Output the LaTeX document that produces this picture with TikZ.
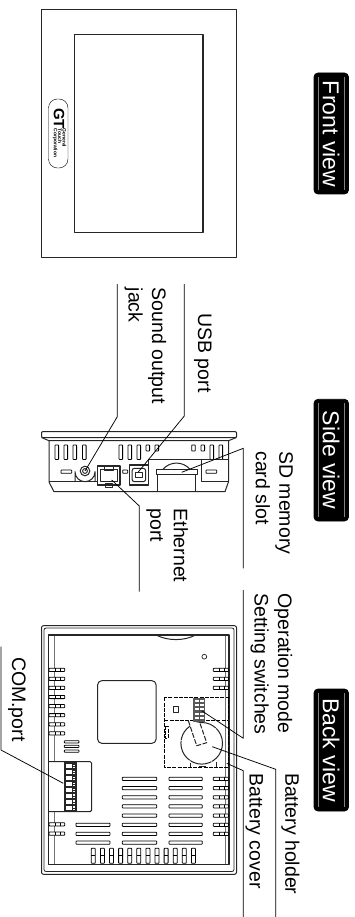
\documentclass[tikz,border=0pt]{standalone}
\usepackage{fontspec}
\setmainfont{Liberation Sans}
\usetikzlibrary{calc,positioning}
\begin{document}
\begin{tikzpicture}
      [
        x=1pt, y=-1pt,
        every path/.style={line width=.75pt, line join=round},
        part/.style={draw, line width=1pt, color=black!85},
        leader/.style={draw, line width=.75pt},
        slat/.style={draw, line width=.8pt, rounded corners=.6pt, fill=white},
        dashline/.style={draw, line width=.9pt, dash pattern=on 4pt off 1.2pt},
        label/.style={rotate=-90, anchor=north west, inner sep=0pt, align=left,
          font=\fontsize{19.5}{23.5}\selectfont},
        badge/.style={fill=black, rounded corners=4pt},
        streak/.style={draw=black!50, line width=.4pt},
        badgetext/.style={rotate=-90, text=white, font=\fontsize{23}{23}\selectfont}
      ]

      \useasboundingbox (0,0) rectangle (355,917);

      % front view
      \draw[part] (41.5,9.5) rectangle (236.5,257.5);
      \draw[part, line width=1.2pt] (74.5,34.5) rectangle (203,232.5);
      \draw[line width=.4pt, rounded corners=9pt] (48.5,99) rectangle (68,168);
      \node[rotate=-90, inner sep=0pt, font=\bfseries\fontsize{15}{15}\selectfont] (logogt) at (59,118.5) {GT};
      \node[rotate=-90, inner sep=0pt, align=left, font=\bfseries\fontsize{5}{4.4}\selectfont] (logotext) at (59.5,143)
        {General\\Touch\\Corporation};

      \draw[badge] (314,73) rectangle (348.5,194);
      \draw[streak] (318,77) -- (318,190);
      \draw[streak] (344,77) -- (344,190);
      \node[badgetext] (frontview) at (331,134) {Front view};

      % side view
      \draw[part, rounded corners=1pt] (41.5,431.7) rectangle (236.5,437.5);
      \draw[part] (41.5,437.5) -- (49,440.7) -- (228.5,440.7) -- (236.5,437.5);
      \draw[part] (49,440.7) -- (49,482) -- (54,491.7) -- (225,491.7) -- (228.5,481.7) -- (228.5,440.7);
      \draw[part] (49,481.7) -- (97.7,481.7);
      \foreach \x in {55,64,73,82.5,119,128,137,210,219}
        \draw[slat] (\x,445) rectangle +(3.6,14.5);
      \foreach \x in {146,155,191.7,201}
        \draw[slat] (\x,445) rectangle +(3.6,6);

      \draw[part] (148.3,465) -- (148.3,459.3) -- (228.5,459.3);
      \draw[part] (201.7,459.3) -- (201.7,481.7) -- (228.5,481.7);
      \draw[slat] (61,470) rectangle (71.7,473.3);
      \draw[slat] (206,470) rectangle (216.7,473.3);
      \draw[slat] (122.7,470) rectangle (127.7,473.3);

      % jack
      \draw[part] (75,481.7) -- (75,471.7) arc[start angle=180, end angle=0, radius=10] -- (95,481.7);
      \draw[part] (85,471) circle (4.8);
      \draw[part] (85,471) circle (2.4);

      % ethernet
      \draw[part, line width=1.4pt] (97.7,466) rectangle (120,485);
      \draw[part] (100,469.3) rectangle (117.3,481.7);
      \draw[part] (105,483) rectangle (112,487);
      \draw[part] (104,466.5) rectangle (113,470);

      % usb
      \draw[part, line width=1.4pt] (129.3,465) rectangle (148.3,485);
      \draw[part, rounded corners=2.5pt] (132,468.3) rectangle (145.7,481.7);
      \draw[part] (135,472.7) rectangle (142.7,477.3);

      % sd slot
      \draw[part] (157.7,474.7) -- (157.7,491.7);
      \draw[part] (195.7,474.7) -- (195.7,491.7);
      \draw[part, fill=white] (156.7,469.3) rectangle (197.3,474.7);
      \draw[part] (163,469.3) .. controls (170,461) and (183,461) .. (190,469.3);

      \draw[badge] (314,399.3) rectangle (348.5,521);
      \draw[streak] (318,403) -- (318,517);
      \draw[streak] (344,403) -- (344,517);
      \node[badgetext] (sideview) at (331,460) {Side view};

      % back view
      \draw[part, rounded corners=2pt] (41.5,625.7) rectangle (236.5,874.3);
      \draw[part, line width=.8pt, rounded corners=2pt] (44,628) rectangle (234,871.5);
      \draw[part, line width=1.5pt] (48.5,635) rectangle (229,864.3);
      \draw[part, color=black!55] (54,636) -- (54,761.7);
      \draw[part, color=black!55] (54,811.7) -- (54,864);
      \draw[part, color=black!55] (225,636) -- (225,864);
      \draw[part] (156.7,635.3) .. controls (168,641) and (184,641) .. (195,635.3);
      \draw[part, line width=.7pt] (204.3,656.7) circle (2.4);

      % side vents
      \foreach \y in {668.3,677.2,686.3,695.4,704.5,713.6,722.7,731.8,822.7,832}
      {
        \draw[slat] (49,\y) rectangle +(15.7,3.2);
        \draw (55,\y) -- +(0,3.2);
        \draw (60,\y) -- +(0,3.2);
      }
      \foreach \y in {668.3,677.2,686.3,777.3,786.5,795.7,804.8,814,823.2,832.3}
      {
        \draw[slat] (213.3,\y) rectangle +(15.2,3.2);
        \draw (219,\y) -- +(0,3.2);
        \draw (224,\y) -- +(0,3.2);
      }

      % middle vents
      \foreach \y in {777.3,786.5,795.7,804.8,814,823.2,832.3,841}
      {
        \draw[slat] (122.3,\y) rectangle +(34.4,3.2);
        \draw[slat] (169,\y) rectangle +(33.3,3.2);
      }
      \foreach \y in {823.2,832.3,841}
        \draw[slat] (76,\y) rectangle +(34,3.2);
      \foreach \y in {740.7,745.3,750}
        \draw[slat] (64.3,\y) rectangle +(14.7,2.2);

      % bottom vents
      \foreach \i in {0,...,11}
      {
        \draw[slat] ({91.3+9.1*\i},848.3) rectangle +(4,15);
        \draw ({91.3+9.1*\i},855.5) -- +(4,0);
      }

      \draw[part, rounded corners=4pt] (97.7,680.7) rectangle (156,743.3);

      % com block
      \draw[part, rounded corners=1.5pt] (49,761.7) -- (91.7,761.7) -- (91.7,811.7) -- (49,811.7);
      \fill[black!85] (64.3,762.3) rectangle (77,811);
      \foreach \i in {0,...,7}
      {
        \fill[white] (65.8,{764.4+5.9*\i}) rectangle +(5.8,4);
        \fill[white] (73,{764.9+5.9*\i}) rectangle +(2.4,1.4);
        \fill[white] (73,{767.3+5.9*\i}) rectangle +(2.4,1);
      }

      % battery area
      \draw[dashline] (164.3,697.3) rectangle (228.3,767.3);
      \draw[dashline] (164.3,720.7) -- (228.3,720.7);
      \draw[part, line width=1.4pt] (173.3,706.7) rectangle (178.3,712.7);
      \draw[dashline, line width=.7pt] (165,726) rectangle (168.3,738);
      \fill[black!65] (193.3,698) rectangle (205,721.5);
      \foreach \i in {0,...,4}
        \fill[white] (194.5,{699.5+4.4*\i}) rectangle +(9.3,2);
      \draw[black!70, line width=.6pt] (199,698) -- (199,721.5);
      \draw[part, dash pattern=on 22pt off .8pt] (201.7,743.3) circle (20.8);
      \draw[part, fill=white, dash pattern=on 5pt off 1.5pt] (188.3,720.7) -- (196.7,745.7) -- (206.7,742.7) -- (200,723.3);
      \draw[part] (190,763) -- (190,767);
      \draw[part] (216.7,762) -- (216.7,767);
      \draw[part, line width=1.6pt] (199,766.5) -- (206,766.5);

      \draw[badge] (314,689) rectangle (348.5,811);
      \draw[streak] (318,693) -- (318,807);
      \draw[streak] (344,693) -- (344,807);
      \node[badgetext] (backview) at (331,750) {Back view};

      % leaders
      \coordinate (soundtop) at (117.3,284);
      \coordinate (soundbend) at (117.3,416.7);
      \coordinate (soundend) at (85,471);
      \draw[leader] (soundtop) -- (soundbend) -- (soundend);
      \coordinate (usbtop) at (184.3,284);
      \coordinate (usbbend) at (184.3,416);
      \coordinate (usbend) at (138.3,472);
      \draw[leader] (usbtop) -- (usbbend) -- (usbend);
      \coordinate (etherend) at (111.7,480);
      \coordinate (etherbend) at (139.3,506);
      \coordinate (etherbot) at (139.3,591.7);
      \draw[leader] (etherend) -- (etherbend) -- (etherbot);
      \coordinate (sdend) at (181.7,472.3);
      \coordinate (sdbend) at (243.3,448.3);
      \coordinate (sdbot) at (243.3,568.3);
      \draw[leader] (sdend) -- (sdbend) -- (sdbot);
      \coordinate (modetop) at (243.3,590);
      \coordinate (modebend) at (243.3,738.3);
      \coordinate (modeend) at (201.7,710.7);
      \draw[leader] (modetop) -- (modebend) -- (modeend);
      \coordinate (holderbot) at (275.7,917);
      \coordinate (holderbend) at (275.7,769.3);
      \coordinate (holderend) at (212.3,746.7);
      \draw[leader] (holderbot) -- (holderbend) -- (holderend);
      \coordinate (coverbot) at (243.3,917);
      \coordinate (coverbend) at (243.3,770.7);
      \coordinate (coverend) at (226.7,763.3);
      \draw[leader] (coverbot) -- (coverbend) -- (coverend);
      \coordinate (comtop) at (1,646.7);
      \coordinate (combend) at (1,750);
      \coordinate (comend) at (63.3,783.3);
      \draw[leader] (comtop) -- (combend) -- (comend);

      % labels
      \node[label] (soundlabel) at (166.7,287.3) {Sound output\\jack};
      \node[label] (usblabel) at (212,313) {USB port};
      \node[label] (sdlabel) at (293.3,451) {SD memory\\card slot};
      \node[label] (etherlabel) at (188.3,508.3) {Ethernet\\port};
      \node[label] (modelabel) at (292.7,593.3) {Operation mode\\Setting switches};
      \node[label] (holderlabel) at (300,772.7) {Battery holder};
      \node[label] (coverlabel) at (263.3,773.3) {Battery cover};
      \node[label] (comlabel) at (26,656.7) {COM.port};

    \end{tikzpicture}
\end{document}
